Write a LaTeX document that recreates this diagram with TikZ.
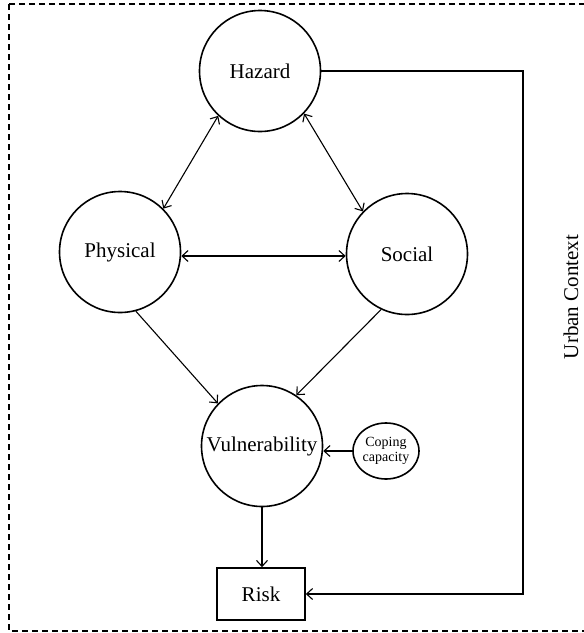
\documentclass[tikz,border=0pt]{standalone}
\usepackage{fontspec}
\setmainfont{Liberation Serif}
\usetikzlibrary{arrows.meta,shapes.geometric}
\tikzset{
    factor/.style={draw, circle, line width=1.6pt, inner sep=0pt, minimum size=121pt, font=\fontsize{21}{24}\selectfont},
    link/.style={line width=1.1pt, -{Straight Barb[length=6pt, width=11pt]}},
    both link/.style={line width=1.1pt, {Straight Barb[length=6pt, width=11pt]}-{Straight Barb[length=6pt, width=11pt]}}
}
\begin{document}
\begin{tikzpicture}[x=1pt, y=-1pt]
            %\draw[lightgray] (0, 0) grid[step=50] (584, 633);
            \useasboundingbox (0, 0) rectangle (584, 633);
            \draw[dashed, line width=1.4pt, dash pattern=on 6pt off 4pt] (9, 4) rectangle (610, 631);
            \node[factor] (hazard) at (260, 71) {Hazard};
            \node[factor] (physical) at (120, 252) {Physical};
            \node[factor] (social) at (407, 254) {Social};
            \node[factor] (vulnerability) at (262, 446) {Vulnerability};
            \node[draw, ellipse, line width=1.6pt, inner sep=0pt, minimum width=66pt, minimum height=56pt, align=center, font=\fontsize{14}{15}\selectfont] (coping capacity) at (386, 451) {Coping\\capacity};
            \node[draw, rectangle, line width=1.6pt, minimum width=88pt, minimum height=52pt, font=\fontsize{21}{24}\selectfont] (risk) at (261, 594) {Risk};
            \node[rotate=90, font=\fontsize{21}{24}\selectfont] (urban context) at (571, 297) {Urban Context};
            \coordinate (corner) at (523, 71);
            \draw[both link] (physical.45) -- (hazard.227);
            \draw[both link] (hazard.316) -- (social.136);
            \draw[both link] ([yshift=-4pt]physical.east) -- ([yshift=-2pt]social.west);
            \draw[link] (physical.285) -- (vulnerability.136);
            \draw[link] (social.245) -- (vulnerability.56);
            \draw[link] (coping capacity.west) -- (vulnerability.east |- coping capacity.west);
            \draw[link] (vulnerability.south) -- (risk.north -| vulnerability.south);
            \draw[link] (hazard.east) -- (corner) |- (risk.east);
        \end{tikzpicture}
\end{document}
